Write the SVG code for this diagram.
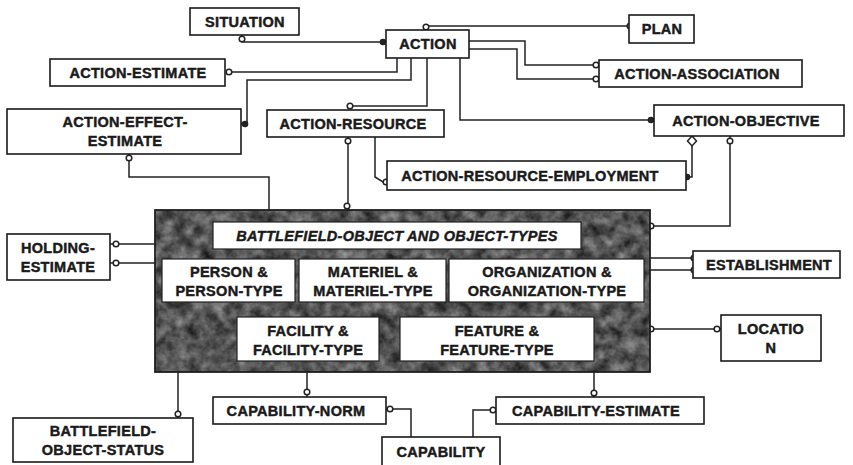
<svg xmlns="http://www.w3.org/2000/svg" width="853" height="465" viewBox="0 0 853 465">
<style>
.bg{fill:#fff}
.box{fill:#fff;stroke:#1a1a1a;stroke-width:1.6}
.ibox{fill:#fff;stroke:#222;stroke-width:1.2}
.t{font-family:"Liberation Sans",Arial,sans-serif;font-weight:bold;font-size:14.5px;letter-spacing:0.3px;fill:#1a1a1a;stroke:#1a1a1a;stroke-width:0.45px;text-anchor:middle}
.it{font-style:italic}
.ln{fill:none;stroke:#222;stroke-width:1.5}
.oc{fill:#fff;stroke:#222;stroke-width:1.5}
.dot{fill:#222}
</style>
<defs>
<filter id="grain" x="0" y="0" width="1" height="1" color-interpolation-filters="sRGB">
<feTurbulence type="fractalNoise" baseFrequency="0.08" numOctaves="4" seed="7" result="n"/>
<feColorMatrix in="n" type="matrix" values="0.65 0 0 0 0.01  0.65 0 0 0 0.01  0.65 0 0 0 0.01  0 0 0 0 1" result="g"/>
<feComposite in="g" in2="SourceGraphic" operator="in"/>
</filter>
</defs>
<rect class="bg" x="0" y="0" width="853" height="465"/>

<g id="connectors">
<path class="ln" d="M242,35 V42 H386"/>
<path class="ln" d="M426,30 V26 H629"/>
<path class="ln" d="M229,72 H397 V58"/>
<path class="ln" d="M411,58 V80 H247 V124 H241"/>
<path class="ln" d="M427,58 V106 H353"/>
<path class="ln" d="M460,58 V120 H654"/>
<path class="ln" d="M469,41 H525 V65 H599"/>
<path class="ln" d="M469,49 H517 V79 H599"/>
<path class="ln" d="M348,137 V210"/>
<path class="ln" d="M375,137 V177 L383,182 H387"/>
<path class="ln" d="M692,146 V177 H686"/>
<path class="ln" d="M730,136 V226 H650"/>
<path class="ln" d="M129,154 V177 H269 V210"/>
<path class="ln" d="M110,244 H155 M110,263 H155"/>
<path class="ln" d="M650,258 H693 M650,270 H693"/>
<path class="ln" d="M650,329 H721"/>
<path class="ln" d="M178,372 V418"/>
<path class="ln" d="M307,372 V397"/>
<path class="ln" d="M594,372 V397"/>
<path class="ln" d="M386,409 H411 V437"/>
<path class="ln" d="M496,410 H473 V437"/>
<circle class="oc" cx="242" cy="39" r="2.8"/>
<circle class="dot" cx="383" cy="42" r="3.3"/>
<circle class="oc" cx="426" cy="27" r="2.8"/>
<circle class="oc" cx="630" cy="26" r="2.8"/>
<circle class="oc" cx="229" cy="72" r="2.8"/>
<circle class="dot" cx="245" cy="124" r="3.3"/>
<circle class="oc" cx="350" cy="106" r="2.8"/>
<circle class="dot" cx="651" cy="120" r="3.3"/>
<circle class="oc" cx="596" cy="65" r="2.8"/>
<circle class="oc" cx="596" cy="79" r="2.8"/>
<circle class="oc" cx="348" cy="141" r="2.8"/>
<circle class="oc" cx="347" cy="206" r="2.8"/>
<circle class="oc" cx="386" cy="182" r="2.8"/>
<path class="oc" d="M692,136 L696.5,141 L692,146 L687.5,141 Z"/>
<circle class="dot" cx="687" cy="177" r="3.3"/>
<circle class="oc" cx="730" cy="141" r="2.8"/>
<circle class="oc" cx="651" cy="226" r="2.8"/>
<circle class="oc" cx="129" cy="158" r="2.8"/>
<circle class="oc" cx="116" cy="244" r="2.8"/>
<circle class="oc" cx="116" cy="263" r="2.8"/>
<circle class="oc" cx="694" cy="258" r="2.8"/>
<circle class="oc" cx="694" cy="270" r="2.8"/>
<circle class="oc" cx="651" cy="329" r="2.8"/>
<circle class="oc" cx="717" cy="329" r="2.8"/>
<circle class="oc" cx="178" cy="414" r="2.8"/>
<circle class="oc" cx="307" cy="392" r="2.8"/>
<circle class="oc" cx="594" cy="393" r="2.8"/>
<circle class="oc" cx="390" cy="409" r="2.8"/>
<circle class="oc" cx="493" cy="410" r="2.8"/>
</g>

<g id="situation"><rect class="box" x="190" y="8" width="109" height="27"/><text class="t" x="245" y="27">SITUATION</text></g>
<g id="action"><rect class="box" x="386" y="30" width="83" height="28"/><text class="t" x="428" y="49">ACTION</text></g>
<g id="plan"><rect class="box" x="629" y="15" width="65" height="28"/><text class="t" x="662" y="34">PLAN</text></g>
<g id="action-association"><rect class="box" x="599" y="60" width="203" height="27"/><text class="t" x="697" y="79">ACTION-ASSOCIATION</text></g>
<g id="action-estimate"><rect class="box" x="50" y="59" width="175" height="27"/><text class="t" x="138" y="78">ACTION-ESTIMATE</text></g>
<g id="action-effect-estimate"><rect class="box" x="7" y="109" width="234" height="45"/><text class="t" x="125" y="127">ACTION-EFFECT-</text><text class="t" x="125" y="146">ESTIMATE</text></g>
<g id="action-resource"><rect class="box" x="267" y="110" width="177" height="27"/><text class="t" x="353" y="129">ACTION-RESOURCE</text></g>
<g id="action-resource-employment"><rect class="box" x="387" y="161" width="299" height="29"/><text class="t" x="530" y="181">ACTION-RESOURCE-EMPLOYMENT</text></g>
<g id="action-objective"><rect class="box" x="654" y="105" width="190" height="31"/><text class="t" x="746" y="126">ACTION-OBJECTIVE</text></g>
<g id="holding-estimate"><rect class="box" x="7" y="234" width="103" height="46"/><text class="t" x="58" y="253">HOLDING-</text><text class="t" x="58" y="272">ESTIMATE</text></g>
<g id="establishment"><rect class="box" x="693" y="251" width="147" height="27"/><text class="t" x="769" y="270">ESTABLISHMENT</text></g>
<g id="location"><rect class="box" x="721" y="315" width="100" height="46"/><text class="t" x="771" y="334">LOCATIO</text><text class="t" x="771" y="353">N</text></g>

<g id="battlefield-object">
<rect x="155" y="210" width="495" height="162" fill="#4a4a4a" filter="url(#grain)"/>
<rect x="155" y="210" width="495" height="162" fill="none" stroke="#1e1e1e" stroke-width="1.8"/>
<rect class="ibox" x="213" y="222" width="368" height="27"/>
<text class="t it" x="397" y="241">BATTLEFIELD-OBJECT AND OBJECT-TYPES</text>
<rect class="ibox" x="162" y="259" width="133" height="43"/>
<text class="t" x="229" y="277">PERSON &amp;</text><text class="t" x="229" y="296">PERSON-TYPE</text>
<rect class="ibox" x="299" y="259" width="147" height="43"/>
<text class="t" x="373" y="277">MATERIEL &amp;</text><text class="t" x="373" y="296">MATERIEL-TYPE</text>
<rect class="ibox" x="449" y="259" width="195" height="43"/>
<text class="t" x="547" y="277">ORGANIZATION &amp;</text><text class="t" x="547" y="296">ORGANIZATION-TYPE</text>
<rect class="ibox" x="237" y="317" width="142" height="44"/>
<text class="t" x="308" y="336">FACILITY  &amp;</text><text class="t" x="308" y="355">FACILITY-TYPE</text>
<rect class="ibox" x="400" y="317" width="194" height="44"/>
<text class="t" x="497" y="336">FEATURE &amp;</text><text class="t" x="497" y="355">FEATURE-TYPE</text>
</g>

<g id="capability-norm"><rect class="box" x="213" y="397" width="173" height="27"/><text class="t" x="296" y="416">CAPABILITY-NORM</text></g>
<g id="capability-estimate"><rect class="box" x="496" y="397" width="208" height="27"/><text class="t" x="596" y="416">CAPABILITY-ESTIMATE</text></g>
<g id="capability"><rect class="box" x="382" y="437" width="118" height="34"/><text class="t" x="441" y="457">CAPABILITY</text></g>
<g id="battlefield-object-status"><rect class="box" x="13" y="418" width="180" height="44"/><text class="t" x="103" y="436">BATTLEFIELD-</text><text class="t" x="103" y="455">OBJECT-STATUS</text></g>
</svg>
